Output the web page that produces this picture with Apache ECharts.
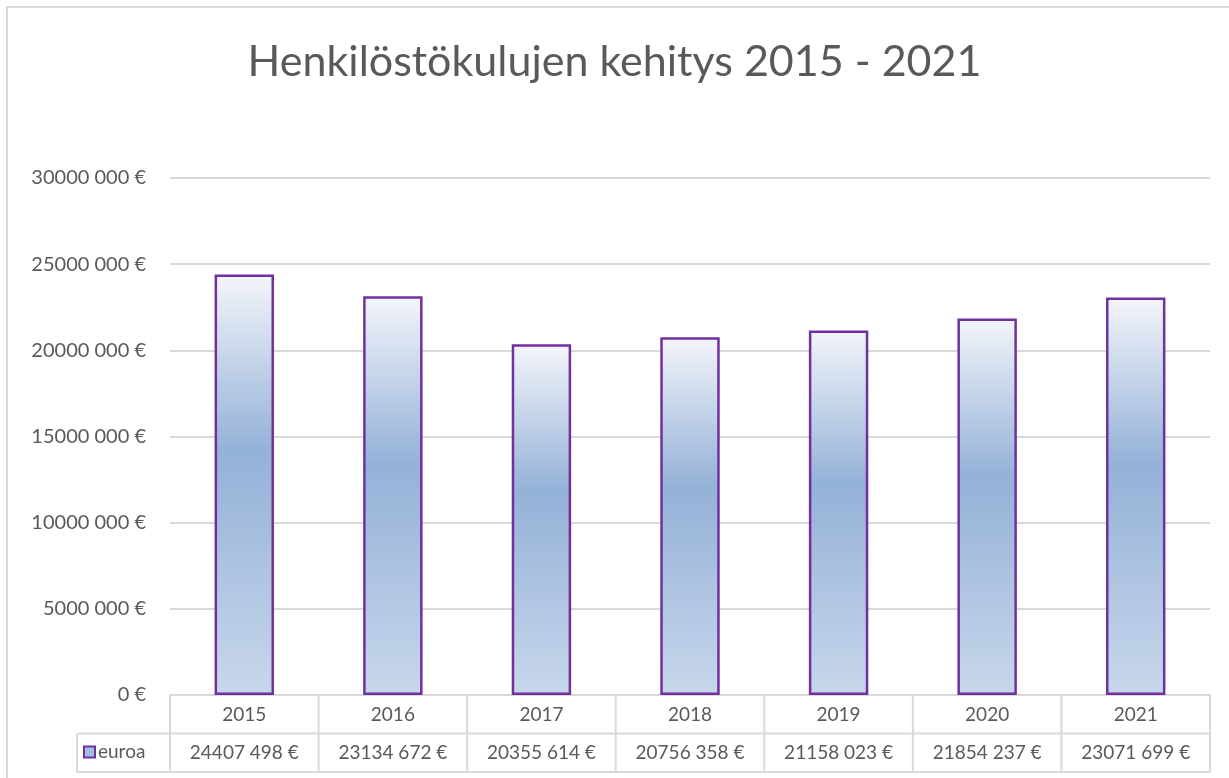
<!DOCTYPE html>
<html>
<head>
<meta charset="utf-8">
<title>Henkilöstökulujen kehitys 2015 - 2021</title>
<script src="https://cdn.jsdelivr.net/npm/echarts@6/dist/echarts.min.js"></script>
<style>
  html, body { margin: 0; padding: 0; background: #fff; }
  #chart { width: 1229px; height: 778px; }
</style>
</head>
<body>
<div id="chart"></div>
<script>
// Data (values are printed in its data table).
const years = ['2015', '2016', '2017', '2018', '2019', '2020', '2021'];
const euroa = [24407498, 23134672, 20355614, 20756358, 21158023, 21854237, 23071699];
const seriesName = 'euroa';
const titleText = 'Henkilöstökulujen kehitys 2015 - 2021';

// Excel-style "# ### €" format: only the last group gets a separator.
function fmtEuro(v) {
  if (v < 1000) return v + ' €';
  const head = Math.floor(v / 1000);
  const tail = String(v % 1000).padStart(3, '0');
  return head + ' ' + tail + ' €';
}

// --- layout -------------------------------------------------------------
const W = 1229, H = 778;
const grid = { left: 170, right: 19, top: 178, bottom: 83 };
const rowH = 38.5;                       // data table row height
const tableTop = H - grid.bottom;        // x axis line == table top
const legendCellLeft = 77;
const lineColor = '#d9d9d9';
const textColor = '#595959';
const font = 'Lato, "Open Sans", sans-serif';

const barFill = {
  type: 'linear', x: 0, y: 0, x2: 0, y2: 1,
  colorStops: [
    { offset: 0, color: '#f3f5fa' },
    { offset: 0.42, color: '#94b1d7' },
    { offset: 1, color: '#c8d7eb' },
  ],
};

const chart = echarts.init(document.getElementById('chart'), null, { renderer: 'canvas' });

const tableRight = W - grid.right;
const row1 = tableTop + rowH;
const row2 = tableTop + rowH * 2;

const ruleStyle = { stroke: lineColor, lineWidth: 2 };
const hline = (x1, x2, y) => ({ type: 'line', silent: true, shape: { x1, y1: y, x2, y2: y }, style: ruleStyle });
const vline = (x, y1, y2) => ({ type: 'line', silent: true, shape: { x1: x, y1, x2: x, y2 }, style: ruleStyle });

chart.setOption({
  animation: false,
  backgroundColor: '#fff',
  textStyle: { fontFamily: font, color: textColor },
  title: {
    text: titleText,
    left: 'center',
    top: 36,
    textStyle: { fontFamily: font, fontSize: 43, fontWeight: 'normal', color: textColor },
  },
  grid,
  legend: {
    left: legendCellLeft + 6,
    top: row1 + 9,
    padding: 0,
    itemWidth: 11,
    itemHeight: 11,
    itemGap: 0,
    icon: 'rect',
    textStyle: { fontFamily: font, fontSize: 19, color: textColor, padding: [0, 0, 0, -2] },
    data: [{
      name: seriesName,
      itemStyle: { color: '#a9bfe0', borderColor: '#7030a0', borderWidth: 2 },
    }],
  },
  xAxis: [
    {
      type: 'category',
      data: years,
      position: 'bottom',
      axisLine: { lineStyle: { color: lineColor, width: 2 } },
      axisTick: { show: false },
      axisLabel: { fontFamily: font, fontSize: 19, color: textColor, margin: 10 },
    },
    {
      type: 'category',
      data: years,
      position: 'bottom',
      offset: rowH,
      axisLine: { show: false },
      axisTick: { show: false },
      axisLabel: {
        fontFamily: font, fontSize: 19, color: textColor, margin: 10,
        formatter: (val, i) => fmtEuro(euroa[i]),
      },
    },
  ],
  yAxis: {
    type: 'value',
    min: 0,
    max: 30000000,
    interval: 5000000,
    axisLine: { show: false },
    axisTick: { show: false },
    splitLine: { lineStyle: { color: lineColor, width: 2 } },
    axisLabel: { fontFamily: font, fontSize: 20, color: textColor, margin: 24, formatter: fmtEuro },
  },
  series: [{
    name: seriesName,
    type: 'bar',
    data: euroa,
    barWidth: '40%',
    itemStyle: { color: barFill, borderColor: '#7030a0', borderWidth: 2.5 },
  }],
});

// Data table rules: column boundaries come from the category scale.
const c0 = chart.convertToPixel({ xAxisIndex: 0 }, 0);
const c1 = chart.convertToPixel({ xAxisIndex: 0 }, 1);
const band = c1 - c0;
const rules = [
  // outer chart frame (right / bottom fall outside the picture)
  { type: 'rect', silent: true, shape: { x: 7, y: 7, width: W + 20, height: H + 20 },
    style: { fill: 'none', stroke: lineColor, lineWidth: 2 } },
  hline(legendCellLeft, tableRight, row1),
  hline(legendCellLeft, tableRight, row2),
  vline(legendCellLeft, row1, row2),
];
for (let i = 0; i <= years.length; i++) {
  rules.push(vline(c0 - band / 2 + band * i, tableTop, row2));
}
chart.setOption({ graphic: rules });
</script>
</body>
</html>
